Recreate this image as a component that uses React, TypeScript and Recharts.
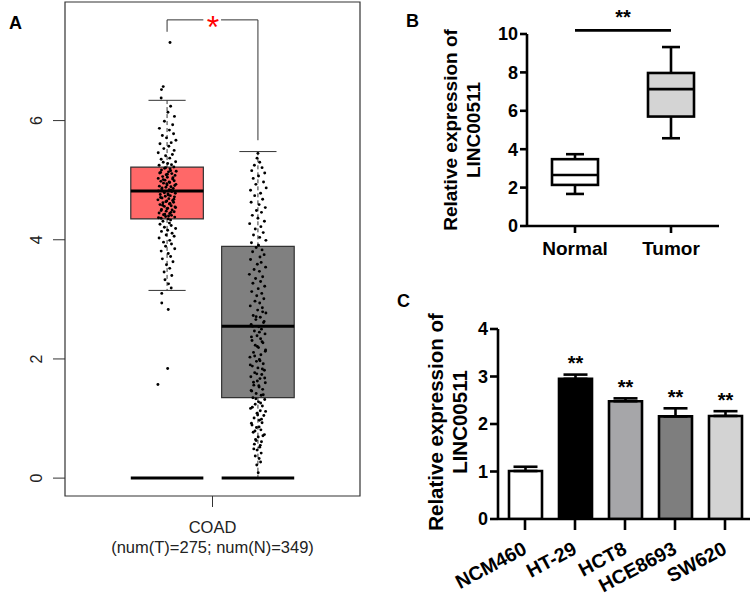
import {
  ComposedChart,
  Bar,
  Cell,
  Scatter,
  XAxis,
  YAxis,
  ErrorBar,
  LabelList,
  ReferenceArea,
  ReferenceLine,
  ReferenceDot,
} from 'recharts';

// ---- panel A: GEPIA COAD box plot ----
const aCategory = 'COAD';
const aSubtitle = '(num(T)=275; num(N)=349)';
const aTicks = [0, 2, 4, 6];
// [tumor, normal]
const aQ1 = [4.35, 1.35];
const aMedian = [4.82, 2.55];
const aQ3 = [5.22, 3.89];
const aUpper = [6.34, 5.48];
const aLower = [3.15, 0];

// [jitter, value]
const tumorPoints: [number, number][] = [
  [1.0, 7.31], [-1.3, 6.57], [-1.9, 6.52], [-2.0, 6.38], [1.2, 6.24], [0.3, 6.14], [2.5, 6.07], [-0.9, 5.99],
  [1.9, 5.93], [-2.6, 5.87], [0.8, 5.84], [2.2, 5.78], [-1.6, 5.75], [-0.2, 5.71], [3.0, 5.67], [1.4, 5.63],
  [-2.4, 5.61], [0.6, 5.57], [-1.1, 5.53], [2.4, 5.5], [-3.0, 5.46], [1.8, 5.43], [-0.5, 5.41], [0.9, 5.37],
  [-2.0, 5.35], [2.9, 5.31], [-1.3, 5.3], [0.2, 5.28], [1.5, 5.26], [-2.7, 5.25],
  [2.3, 5.22], [-0.8, 5.2], [1.0, 5.19], [-1.9, 5.17], [3.1, 5.15], [0.5, 5.14], [-2.5, 5.12], [1.6, 5.11],
  [-0.3, 5.09], [2.7, 5.08], [-1.5, 5.06], [0.1, 5.05], [-3.0, 5.03], [1.9, 5.02], [-0.7, 5.0], [2.4, 4.99],
  [-2.1, 4.98], [0.9, 4.96], [-1.2, 4.95], [3.0, 4.93], [0.0, 4.92], [-2.6, 4.9], [1.3, 4.89], [-0.4, 4.88],
  [2.1, 4.86], [-1.8, 4.85], [0.7, 4.84], [-2.9, 4.82], [1.6, 4.81], [-1.0, 4.8], [2.8, 4.78], [0.3, 4.77],
  [-2.3, 4.76], [1.1, 4.74], [-0.6, 4.73], [2.5, 4.72], [-1.7, 4.7], [0.6, 4.69], [-3.1, 4.67], [1.9, 4.66],
  [-0.1, 4.65], [2.2, 4.63], [-1.4, 4.62], [0.8, 4.6], [-2.4, 4.59], [1.4, 4.57], [-0.9, 4.56], [2.9, 4.54],
  [0.2, 4.53], [-1.9, 4.51], [1.7, 4.5], [-0.3, 4.48], [2.4, 4.47], [-2.7, 4.45], [0.9, 4.44], [-1.2, 4.42],
  [1.5, 4.41], [-0.5, 4.39], [2.6, 4.38], [-2.0, 4.36], [0.4, 4.35],
  [-0.5, 5.21], [1.2, 5.16], [-2.2, 5.13], [0.1, 5.1], [2.0, 5.04], [-1.3, 5.01], [0.7, 4.97], [-0.1, 4.94],
  [2.6, 4.91], [-1.7, 4.87], [1.4, 4.83], [-0.9, 4.79], [0.4, 4.75], [-2.2, 4.71], [2.3, 4.68], [-0.4, 4.64],
  [1.0, 4.61], [-1.5, 4.58], [2.7, 4.55], [0.0, 4.52], [-2.0, 4.49], [1.3, 4.46], [-0.8, 4.43], [0.5, 4.4],
  [-2.9, 4.37],
  [1.2, 4.33], [-1.4, 4.31], [0.8, 4.28], [-2.4, 4.26], [1.4, 4.24], [-0.9, 4.21], [2.9, 4.19], [0.2, 4.16],
  [-1.9, 4.14], [1.7, 4.11], [-0.3, 4.08], [2.4, 4.06], [-2.7, 4.03], [0.9, 3.99], [-1.2, 3.96], [1.5, 3.93],
  [-0.5, 3.89], [2.6, 3.85], [-2.0, 3.81], [0.4, 3.77], [1.2, 3.72], [-1.6, 3.68], [2.0, 3.63], [-0.2, 3.58],
  [0.9, 3.52], [-1.0, 3.46], [1.6, 3.4], [-0.7, 3.33], [0.5, 3.26], [1.4, 3.19], [-1.8, 3.1], [-1.8, 2.94],
  [0.4, 2.83], [0.2, 1.84], [-3.1, 1.57],
];

const normalPoints: [number, number][] = [
  [0.0, 5.45], [-0.3, 5.37], [0.6, 5.3], [-1.2, 5.25], [1.4, 5.21], [-2.1, 5.16], [2.3, 5.12], [0.2, 5.07],
  [-1.6, 5.03], [1.9, 4.97], [-0.7, 4.93], [2.8, 4.87], [-2.5, 4.83], [0.9, 4.78], [-1.1, 4.74], [1.6, 4.68],
  [-2.3, 4.63], [0.4, 4.59], [2.5, 4.54], [-0.5, 4.49], [1.2, 4.46], [-1.9, 4.41], [0.0, 4.36], [2.2, 4.31],
  [-2.8, 4.27], [1.0, 4.22], [-0.9, 4.18], [1.8, 4.12], [-1.5, 4.08], [0.6, 4.04], [2.7, 3.99], [-2.2, 3.95],
  [0.2, 3.91], [-0.6, 3.87], [1.4, 3.83], [-1.8, 3.8], [2.1, 3.75], [0.7, 3.71], [-2.5, 3.67], [1.1, 3.62],
  [-0.2, 3.59], [2.6, 3.54], [-1.3, 3.5], [0.5, 3.47], [-2.9, 3.42], [1.6, 3.38], [-0.8, 3.35], [0.9, 3.3],
  [-1.7, 3.27], [2.3, 3.22], [0.1, 3.18], [-2.1, 3.13], [1.3, 3.1], [-0.4, 3.06], [2.0, 3.01], [-1.0, 2.97],
  [0.6, 2.94], [-2.6, 2.89], [1.5, 2.86], [-0.1, 2.82], [2.7, 2.77], [-1.6, 2.73], [0.8, 2.7], [-0.7, 2.66],
  [1.9, 2.61], [-2.3, 2.58], [0.3, 2.54], [1.2, 2.5], [-1.2, 2.47], [2.4, 2.42], [-0.3, 2.39], [0.9, 2.34],
  [-2.0, 2.31], [1.7, 2.27], [-0.9, 2.23], [0.2, 2.19], [2.6, 2.15], [-1.5, 2.11], [1.0, 2.07], [-2.7, 2.03],
  [0.5, 1.99], [-0.5, 1.96], [1.8, 1.92], [-1.9, 1.88], [0.0, 1.85], [2.2, 1.81], [-1.1, 1.77], [1.3, 1.74],
  [-2.4, 1.7], [0.7, 1.67], [-0.2, 1.63], [2.5, 1.6], [-1.4, 1.56], [0.4, 1.53], [1.6, 1.49], [-2.1, 1.46],
  [-0.6, 1.42], [1.1, 1.39], [-1.7, 1.35], [2.3, 1.32], [0.2, 1.28], [-0.9, 1.24], [1.5, 1.21], [-2.5, 1.17],
  [0.8, 1.13], [-0.3, 1.09], [2.0, 1.05], [-1.3, 1.01], [0.5, 0.97], [1.4, 0.93], [-2.0, 0.89], [-0.5, 0.85],
  [1.0, 0.81], [-1.6, 0.77], [2.2, 0.73], [0.1, 0.69], [-0.8, 0.65], [1.2, 0.61], [-1.2, 0.57], [0.6, 0.52],
  [-0.3, 0.47], [1.1, 0.42], [-0.9, 0.37], [0.4, 0.33], [0.9, 0.27], [-0.4, 0.22], [0.1, 0.09],
  [1.6, 2.79], [-0.6, 2.71], [2.1, 2.63], [-1.8, 2.55], [0.5, 2.45], [-2.2, 2.37], [1.4, 2.29], [-0.2, 2.21],
  [2.5, 2.13], [-1.1, 2.05], [0.7, 1.97], [-2.6, 1.9], [1.5, 1.83], [-0.4, 1.75], [2.3, 1.68], [-1.5, 1.61],
  [0.3, 1.55], [-2.3, 1.47], [1.8, 1.4], [-0.7, 1.33], [0.9, 1.26], [-1.9, 1.19], [2.6, 1.12], [-0.1, 1.06],
  [1.2, 0.99], [-2.2, 0.92], [0.4, 0.86], [-1.0, 0.79], [1.7, 0.71], [-0.6, 0.63], [0.8, 0.55], [-1.4, 0.49],
];

// ---- panel B: qPCR tissue box plot ----
const boxGroups = ['Normal', 'Tumor'];
const boxMin = [1.67, 4.57];
const boxQ1 = [2.14, 5.7];
const boxMed = [2.66, 7.13];
const boxQ3 = [3.48, 7.97];
const boxMax = [3.74, 9.32];
const boxTicks = [0, 2, 4, 6, 8, 10];
const boxSigLevel = 10.19;
const boxSigLabel = '**';

// ---- panel C: cell lines ----
const cellLines = ['NCM460', 'HT-29', 'HCT8', 'HCE8693', 'SW620'];
const cellMeans = [1.01, 2.95, 2.48, 2.16, 2.17];
const cellSem = [0.09, 0.09, 0.06, 0.17, 0.1];
const cellStars = ['', '**', '**', '**', '**'];
const cellTicks = [0, 1, 2, 3, 4];

// layout / style
const FONT = '"Liberation Sans", Arial, Helvetica, sans-serif';
const A_TUMOR_X = 34.6;
const A_NORMAL_X = 65.4;
const A_HALF = 12.3;
const A_CAP = 6.3;
const A_YMIN = -0.3;
const A_YMAX = 7.99;
const A_BRACKET = 7.69;
const aFills = ['#ff6868', '#808080'];
const boxFills = ['#ffffff', '#d4d4d4'];
const cellFills = ['#ffffff', '#000000', '#a6a6a9', '#7e7e7e', '#d3d3d3'];
const axisStyle = { stroke: '#000', strokeWidth: 2.6 };

const tumorDots = tumorPoints.map(([dx, v]) => ({ x: A_TUMOR_X + dx, y: v }));
const normalDots = normalPoints.map(([dx, v]) => ({ x: A_NORMAL_X + dx, y: v }));

const Dot = (p: any) => <circle cx={p.cx} cy={p.cy} r={1.45} fill="#000" />;

const ATickY = (p: any) => {
  const bx = p.x - 9;
  return (
    <text x={bx} y={p.y} transform={`rotate(-90 ${bx} ${p.y})`} textAnchor="middle" fontSize={16} fill="#222">
      {p.payload.value}
    </text>
  );
};

const ATickX = (p: any) => (
  <g fill="#222" fontSize={16.5}>
    <text x={p.x} y={p.y + 24} textAnchor="middle">{aCategory}</text>
    <text x={p.x} y={p.y + 44} textAnchor="middle">{aSubtitle}</text>
  </g>
);

function PanelA() {
  const centers = [A_TUMOR_X, A_NORMAL_X];
  const seg = (x1: number, y1: number, x2: number, y2: number) => [
    { x: x1, y: y1 },
    { x: x2, y: y2 },
  ];
  return (
    <ComposedChart width={380} height={597} margin={{ top: 2, right: 20, bottom: 0, left: 0 }}>
      <XAxis
        type="number"
        dataKey="x"
        domain={[0, 100]}
        ticks={[50]}
        allowDataOverflow
        axisLine={false}
        tickSize={11}
        tickLine={{ stroke: '#333' }}
        height={101}
        tick={ATickX}
      />
      <YAxis
        type="number"
        dataKey="y"
        domain={[A_YMIN, A_YMAX]}
        ticks={aTicks}
        allowDataOverflow
        width={65}
        axisLine={false}
        tickSize={12}
        tickLine={{ stroke: '#333' }}
        tick={ATickY}
      />
      {centers.map((cx, i) => (
        <ReferenceArea
          key={`box${i}`}
          x1={cx - A_HALF}
          x2={cx + A_HALF}
          y1={aQ1[i]}
          y2={aQ3[i]}
          fill={aFills[i]}
          fillOpacity={1}
          stroke="#333"
          strokeWidth={1.2}
        />
      ))}
      {centers.map((cx, i) => (
        <ReferenceLine key={`wu${i}`} segment={seg(cx, aQ3[i], cx, aUpper[i])} stroke="#333" strokeDasharray="4 3" />
      ))}
      {centers.map((cx, i) => (
        <ReferenceLine key={`wl${i}`} segment={seg(cx, aQ1[i], cx, aLower[i])} stroke="#333" strokeDasharray="4 3" />
      ))}
      {centers.map((cx, i) => (
        <ReferenceLine key={`cu${i}`} segment={seg(cx - A_CAP, aUpper[i], cx + A_CAP, aUpper[i])} stroke="#333" />
      ))}
      {centers.map((cx, i) => (
        <ReferenceLine key={`cl${i}`} segment={seg(cx - A_CAP, aLower[i], cx + A_CAP, aLower[i])} stroke="#333" />
      ))}
      <Scatter data={tumorDots} dataKey="y" shape={Dot} isAnimationActive={false} />
      <Scatter data={normalDots} dataKey="y" shape={Dot} isAnimationActive={false} />
      {centers.map((cx, i) => (
        <ReferenceLine key={`md${i}`} segment={seg(cx - A_HALF, aMedian[i], cx + A_HALF, aMedian[i])} stroke="#000" strokeWidth={3} />
      ))}
      {centers.map((cx, i) => (
        <ReferenceLine key={`z${i}`} segment={seg(cx - A_HALF, 0, cx + A_HALF, 0)} stroke="#000" strokeWidth={3} />
      ))}
      <ReferenceLine segment={seg(A_TUMOR_X, 7.49, A_TUMOR_X, A_BRACKET)} stroke="#333" ifOverflow="visible" />
      <ReferenceLine segment={seg(A_TUMOR_X, A_BRACKET, 46.9, A_BRACKET)} stroke="#333" ifOverflow="visible" />
      <ReferenceLine segment={seg(52.9, A_BRACKET, A_NORMAL_X, A_BRACKET)} stroke="#333" ifOverflow="visible" />
      <ReferenceLine segment={seg(A_NORMAL_X, A_BRACKET, A_NORMAL_X, 5.67)} stroke="#333" ifOverflow="visible" />
      <ReferenceDot
        x={50.2}
        y={A_BRACKET}
        ifOverflow="visible"
        shape={(p: any) => (
          <text x={p.cx} y={p.cy + 18} textAnchor="middle" fontSize={32} fill="#ff0000">
            *
          </text>
        )}
      />
      <ReferenceArea
        x1={0}
        x2={100}
        y1={A_YMIN}
        y2={A_YMAX}
        fill="none"
        fillOpacity={0}
        stroke="#333"
        strokeWidth={1.2}
        ifOverflow="visible"
      />
    </ComposedChart>
  );
}

const YTitle = ({ x1, x2, cy, size }: { x1: number; x2: number; cy: number; size: number }) => (
  <g fontSize={size} fontWeight="bold" fill="#000">
    <text x={x1} y={cy} transform={`rotate(-90 ${x1} ${cy})`} textAnchor="middle">
      Relative expression of
    </text>
    <text x={x2} y={cy} transform={`rotate(-90 ${x2} ${cy})`} textAnchor="middle">
      LINC00511
    </text>
  </g>
);

const BoxShape = (p: any) => {
  const d = p.payload ?? p;
  const [lo, hi] = d.range;
  const k = p.height / (hi - lo);
  const yAt = (v: number) => p.y + (hi - v) * k;
  const cx = p.x + p.width / 2;
  const cap = 9;
  const st = { stroke: '#000', strokeWidth: 2.6 };
  return (
    <g>
      <line x1={cx} x2={cx} y1={yAt(hi)} y2={yAt(d.q3)} {...st} />
      <line x1={cx} x2={cx} y1={yAt(d.q1)} y2={yAt(lo)} {...st} />
      <line x1={cx - cap} x2={cx + cap} y1={yAt(hi)} y2={yAt(hi)} {...st} />
      <line x1={cx - cap} x2={cx + cap} y1={yAt(lo)} y2={yAt(lo)} {...st} />
      <rect x={p.x} y={yAt(d.q3)} width={p.width} height={yAt(d.q1) - yAt(d.q3)} fill={d.fill} {...st} />
      <line x1={p.x} x2={p.x + p.width} y1={yAt(d.med)} y2={yAt(d.med)} {...st} />
    </g>
  );
};

function PanelB() {
  const rows = boxGroups.map((name, i) => ({
    name,
    range: [boxMin[i], boxMax[i]],
    q1: boxQ1[i],
    med: boxMed[i],
    q3: boxQ3[i],
    fill: boxFills[i],
  }));
  return (
    <ComposedChart width={353} height={300} data={rows} margin={{ top: 34, right: 34, bottom: 34, left: 77 }}>
      <XAxis
        dataKey="name"
        height={40}
        interval={0}
        tickSize={7}
        tickMargin={8.5}
        axisLine={axisStyle}
        tickLine={axisStyle}
        tick={{ fontSize: 19, fontWeight: 'bold', fill: '#000' }}
      />
      <YAxis
        type="number"
        domain={[0, 10]}
        ticks={boxTicks}
        allowDataOverflow
        width={50}
        tickSize={7}
        tickMargin={2}
        axisLine={axisStyle}
        tickLine={axisStyle}
        tick={{ fontSize: 18, fontWeight: 'bold', fill: '#000' }}
        label={<YTitle x1={57} x2={80} cy={130} size={19} />}
      />
      <Bar dataKey="range" barSize={46} shape={BoxShape} isAnimationActive={false} />
      <ReferenceLine
        segment={[
          { x: boxGroups[0], y: boxSigLevel },
          { x: boxGroups[1], y: boxSigLevel },
        ]}
        stroke="#000"
        strokeWidth={2.6}
        ifOverflow="visible"
        label={{ value: boxSigLabel, position: 'top', offset: 6, fontSize: 20, fontWeight: 'bold', fill: '#000' }}
      />
    </ComposedChart>
  );
}

const CatTick = (p: any) => {
  const ax = p.x + 3;
  const ay = p.y + 21;
  return (
    <text x={ax} y={ay} transform={`rotate(-28 ${ax} ${ay})`} textAnchor="end" fontSize={19.5} fontWeight="bold" fill="#000">
      {p.payload.value}
    </text>
  );
};

function PanelC() {
  const rows = cellLines.map((name, i) => ({
    name,
    mean: cellMeans[i],
    err: [0, cellSem[i]],
    star: cellStars[i],
  }));
  const StarLabel = (p: any) => {
    const vb = p.viewBox ?? p;
    const x = vb.x ?? p.x;
    const y = vb.y ?? p.y;
    const w = vb.width ?? p.width;
    const h = vb.height ?? p.height;
    const i = p.index;
    if (i == null || !cellStars[i]) return null;
    const top = y - (h * cellSem[i]) / cellMeans[i];
    return (
      <text x={x + w / 2} y={top - 4.5} textAnchor="middle" fontSize={20} fontWeight="bold" fill="#000">
        {cellStars[i]}
      </text>
    );
  };
  return (
    <ComposedChart width={353} height={297} data={rows} margin={{ top: 29, right: 3, bottom: 0, left: 48 }}>
      <XAxis
        dataKey="name"
        height={78}
        interval={0}
        padding={{ left: 2, right: 0 }}
        tickSize={11}
        axisLine={axisStyle}
        tickLine={axisStyle}
        tick={CatTick}
      />
      <YAxis
        type="number"
        domain={[0, 4]}
        ticks={cellTicks}
        allowDataOverflow
        width={50}
        tickSize={8}
        tickMargin={2}
        axisLine={axisStyle}
        tickLine={axisStyle}
        tick={{ fontSize: 18, fontWeight: 'bold', fill: '#000' }}
        label={<YTitle x1={43} x2={67} cy={122} size={20.5} />}
      />
      <Bar dataKey="mean" barSize={33} stroke="#000" strokeWidth={2.6} isAnimationActive={false}>
        {rows.map((r, i) => (
          <Cell key={r.name} fill={cellFills[i]} />
        ))}
        <ErrorBar dataKey="err" direction="y" width={12} stroke="#000" strokeWidth={2.6} />
        <LabelList dataKey="star" content={StarLabel} />
      </Bar>
    </ComposedChart>
  );
}

export default function App() {
  return (
    <div
      style={{
        position: 'absolute',
        left: 0,
        top: 0,
        width: 753,
        height: 597,
        background: '#fff',
        fontFamily: FONT,
        overflow: 'hidden',
      }}
    >
      <div style={{ position: 'absolute', left: 0, top: 0 }}>
        <PanelA />
      </div>
      <div style={{ position: 'absolute', left: 400, top: 0 }}>
        <PanelB />
      </div>
      <div style={{ position: 'absolute', left: 400, top: 300 }}>
        <PanelC />
      </div>
      <svg
        width={753}
        height={597}
        style={{ position: 'absolute', left: 0, top: 0, pointerEvents: 'none' }}
        fontFamily={FONT}
        fontWeight="bold"
        fontSize={18}
      >
        <text x={9} y={29}>A</text>
        <text x={406} y={27}>B</text>
        <text x={397} y={307}>C</text>
      </svg>
    </div>
  );
}
